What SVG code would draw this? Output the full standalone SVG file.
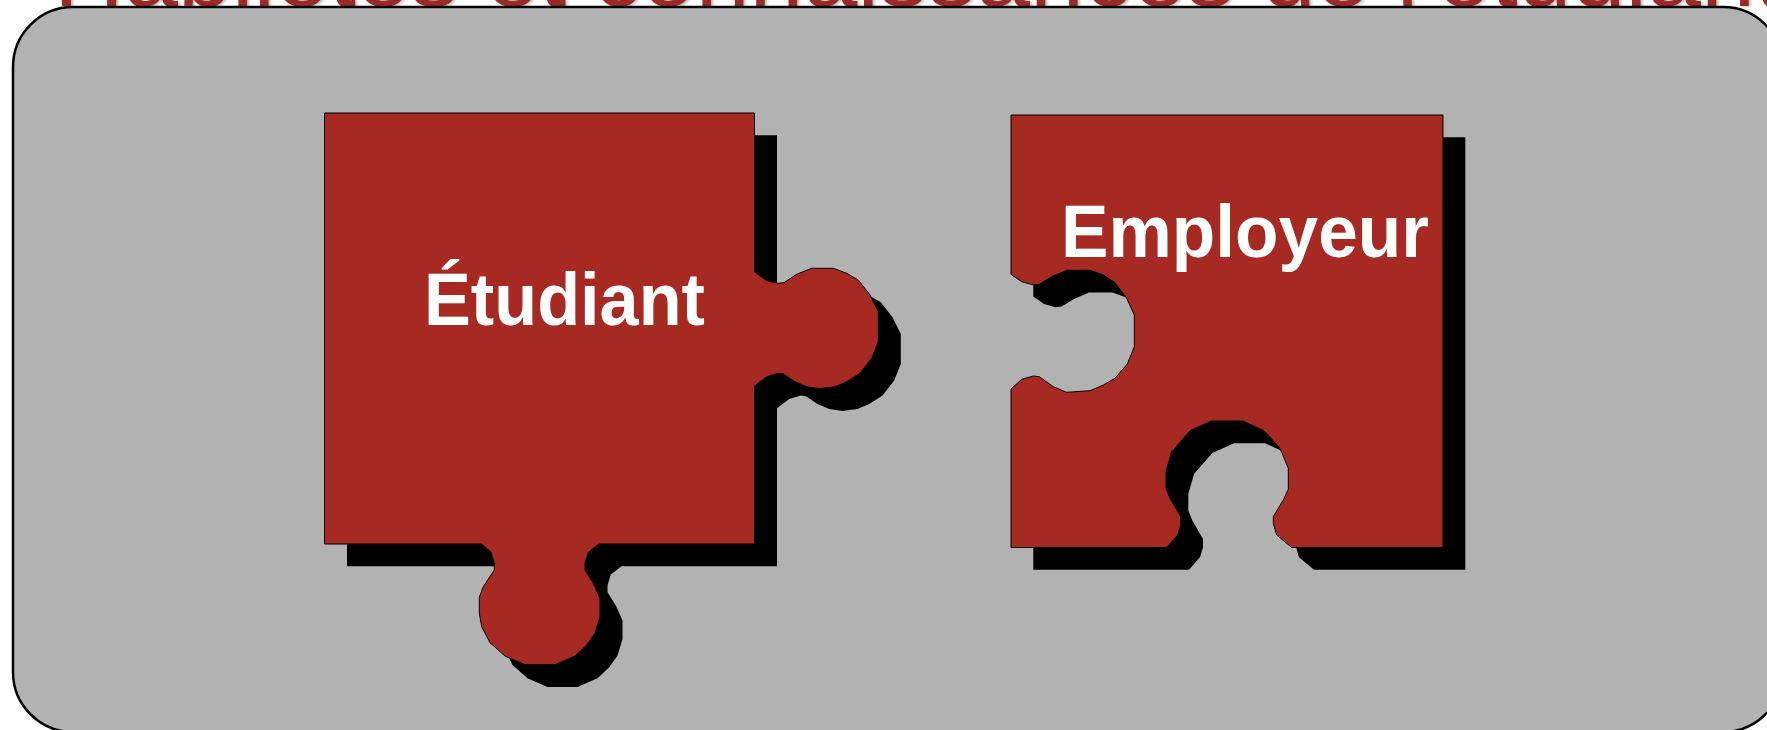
<svg xmlns="http://www.w3.org/2000/svg" width="1767" height="730" viewBox="0 0 1767 730">
<defs>
<style>
.title{font-family:"Liberation Sans",Arial,sans-serif;font-size:97px;fill:#9a2a25;text-shadow:2px 1px 3px #bbb}
.label{font-family:"Liberation Sans",Arial,sans-serif;font-size:74px;font-weight:bold;fill:#fff}
.piece{fill:#a62922;stroke:#000;stroke-width:1}
.shadow{fill:#000}
</style>
<polygon id="p1" points="324.5,113 754.5,113 754.5,272 766.7,280.7 778.3,283.3 784,282.7 796.7,274.3 811.7,268.3 833.3,268.3 846.7,273.3 858.3,280 870,295 878.3,311.7 878.3,341.7 871.7,358.3 860,373.3 846.7,381.7 835,386.7 820,388.7 806.7,386.7 795,381.7 783.3,374 778.3,373.3 766.7,376.7 754.5,386 754.5,544 599,544 588.3,552.3 585,563.3 585,570 593.3,583.3 600,598.3 600,616.7 595,633.3 586.7,645 575,656 555,664.7 525,664.7 505,656 490,642.7 481.7,626.7 479.3,613.3 479.3,597.3 483.3,586.7 494.3,570 494.3,563 491,552.3 481.7,544 324.5,544"/>
<polygon id="p2" points="1011,115 1443,115 1443,547.5 1291.7,547.5 1276.7,535 1273.3,523.3 1273.3,516.7 1283.3,500 1288.3,489.3 1288.3,468.3 1280,448.3 1264,430.7 1242.7,421 1211.7,421 1190,430.7 1171.7,451.7 1166,471.7 1166,488.3 1170,498.3 1180.7,516.7 1180.7,525 1177.7,535 1166.7,547.5 1011,547.5 1011,389 1021.7,379.3 1033.3,376 1039.3,376.7 1053.3,386.7 1066.7,392.3 1090,390.7 1103.3,385 1115,378.3 1127.3,364 1134.3,346.7 1134.3,315 1126.7,298.3 1115,282.7 1103.3,275 1090,270.3 1066.7,270.3 1051.7,276.7 1039.3,284.3 1033.3,285 1021.7,281.7 1011,274.3"/>
</defs>
<text id="title" class="title" x="54" y="6">Habiletés et connaissances de l'étudiant</text>
<rect id="panel" x="13" y="7" width="1770" height="725" rx="60" ry="60" fill="#b2b2b2" stroke="#000" stroke-width="2.5"/>
<g id="connectors"></g>
<g id="node-etudiant">
<use href="#p1" class="shadow" x="22.5" y="22.3"/>
<use href="#p1" class="piece"/>
<text class="label" x="424" y="325" textLength="281" lengthAdjust="spacingAndGlyphs">Étudiant</text>
</g>
<g id="node-employeur">
<use href="#p2" class="shadow" x="22.3" y="22.3"/>
<use href="#p2" class="piece"/>
<text class="label" x="1061" y="257" textLength="368" lengthAdjust="spacingAndGlyphs">Employeur</text>
</g>
</svg>
